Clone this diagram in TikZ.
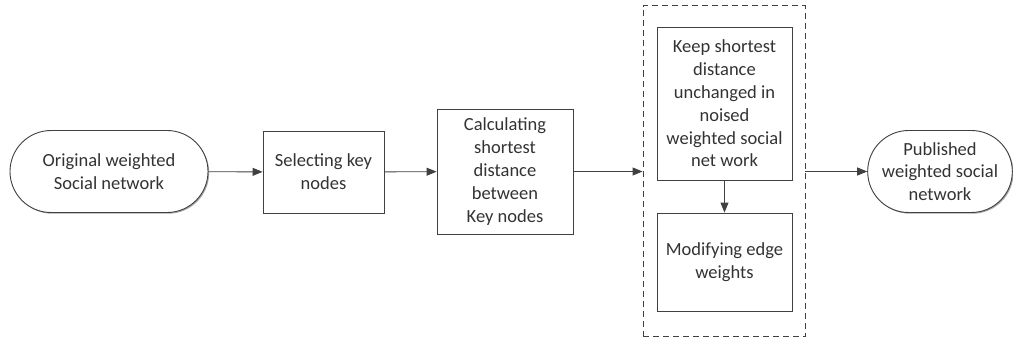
\documentclass[tikz,border=0pt]{standalone}
\usepackage{fontspec}
\setmainfont{Carlito}
\usetikzlibrary{shapes.misc,arrows.meta,shadows}
\begin{document}
\begin{tikzpicture}[x=1pt,y=-1pt,
  line/.style={draw=black!75, line width=0.9pt},
  shad/.style={drop shadow={shadow xshift=1.2pt, shadow yshift=-1.2pt, fill=black!35, opacity=1}},
  box/.style={line, shad, fill=white, rectangle, inner sep=2pt, align=center,
    font=\fontsize{18.5}{22.8}\selectfont, text=black!80},
  term/.style={box, rounded rectangle},
  conn/.style={line, -{Triangle[length=10pt,width=8pt]}}]
\useasboundingbox (0,0) rectangle (1013,340);
\node[term, minimum width=202pt, minimum height=82pt] (orig) at (109,171.5) {Original weighted\\Social network};
\node[box, minimum width=121pt, minimum height=82pt] (sel) at (323.5,172) {Selecting key\\nodes};
\node[box, minimum width=136pt, minimum height=125pt] (calc) at (505,171.5) {Calculating\\shortest\\distance\\between\\Key nodes};
\node[draw=black!75, dashed, line width=0.9pt, dash pattern=on 6pt off 4pt, minimum width=162pt, minimum height=331pt] (grp) at (724,171) {};
\node[box, minimum width=135pt, minimum height=153pt] (keep) at (724.5,103.5) {Keep shortest\\distance\\unchanged in\\noised\\weighted social\\net work};
\node[box, minimum width=135pt, minimum height=98pt] (mod) at (724.5,262) {Modifying edge\\weights};
\node[term, minimum width=140pt, minimum height=82pt] (pub) at (940,171.5) {Published\\weighted social\\network};
\draw[conn] (orig) -- (sel);
\draw[conn] (sel) -- (calc);
\draw[conn] (calc.east) -- (grp.west |- calc.east);
\draw[conn] (keep) -- (mod);
\draw[conn] (grp.east |- pub.west) -- (pub.west);
\end{tikzpicture}
\end{document}
